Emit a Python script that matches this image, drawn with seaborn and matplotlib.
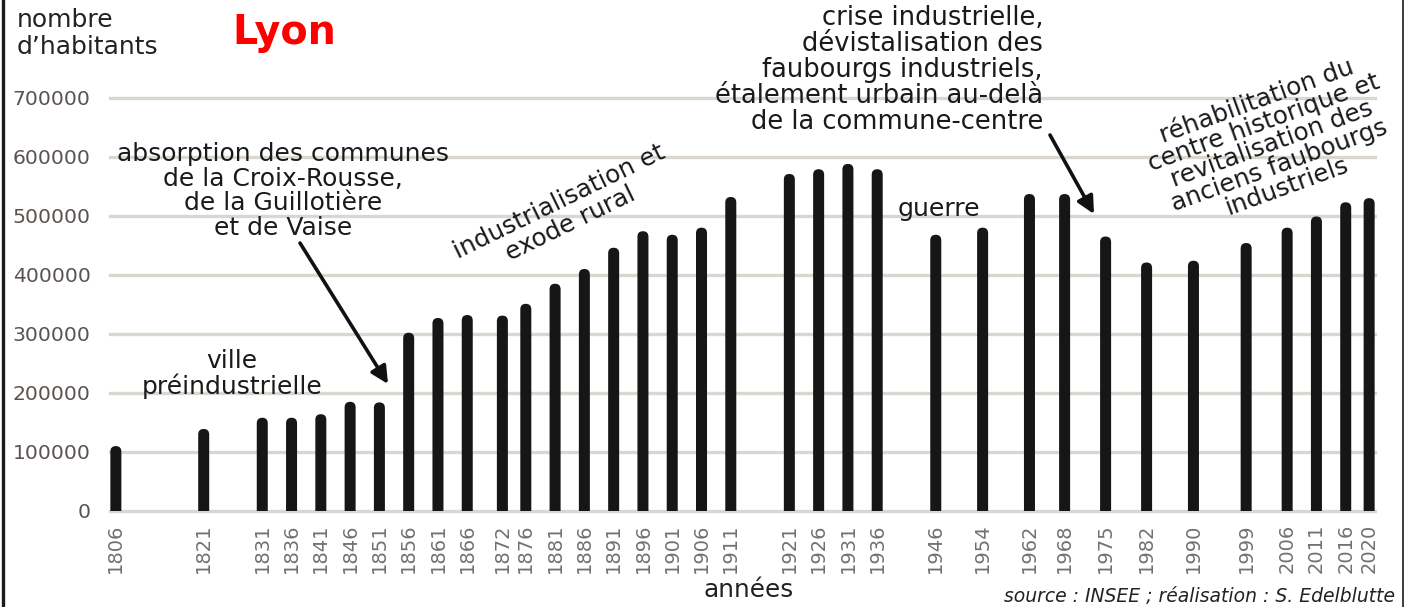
import matplotlib
matplotlib.use("Agg")
import matplotlib.pyplot as plt
from matplotlib.patches import FancyBboxPatch, FancyArrowPatch
from matplotlib.lines import Line2D
import seaborn as sns
import pandas as pd

# ---- data ----
years = [1806, 1821, 1831, 1836, 1841, 1846, 1851, 1856, 1861, 1866, 1872, 1876,
         1881, 1886, 1891, 1896, 1901, 1906, 1911, 1921, 1926, 1931, 1936, 1946,
         1954, 1962, 1968, 1975, 1982, 1990, 1999, 2006, 2011, 2016, 2020]
population = [110000, 139000, 158000, 158000, 164000, 185000, 184000, 302000,
              327000, 332000, 331000, 351000, 385000, 410000, 446000, 474000,
              468000, 480000, 532000, 571000, 579000, 588000, 579000, 468000,
              480000, 537000, 537000, 465000, 421000, 424000, 454000, 480000,
              499000, 523000, 530000]
y_ticks = [0, 100000, 200000, 300000, 400000, 500000, 600000, 700000]

df = pd.DataFrame({"annee": years, "habitants": population})

W, H = 1408, 607
fig = plt.figure(figsize=(W / 100, H / 100), dpi=100)
fig.patch.set_facecolor("white")

def fx(px):
    return px / W

def fy(py):
    return 1 - py / H

FONT = "DejaVu Sans"
plt.rcParams["font.family"] = [FONT]

ax_left, ax_right = 110, 1375
ax_bottom, ax_top = 511, 86
ax = fig.add_axes([fx(ax_left), fy(ax_bottom), (ax_right - ax_left) / W, (ax_bottom - ax_top) / H])
ax.set_facecolor("white")

sns.barplot(data=df, x="annee", y="habitants", native_scale=True, color="#161616",
            width=0.47, ax=ax, zorder=3, saturation=1)

ax.set_xlim(1805, 2021)
ax.set_ylim(0, 720000)

# round the top of each bar
xpp = (2021 - 1805) / (ax_right - ax_left)
ypp = 720000 / (ax_bottom - ax_top)
aspect = ypp / xpp
bars = list(ax.patches)
for p in bars:
    x0, w, h = p.get_x(), p.get_width(), p.get_height()
    r = w / 2
    ry = r * aspect
    fb = FancyBboxPatch((x0, -ry), w, h + ry, boxstyle=f"round,pad=0,rounding_size={r}",
                        mutation_aspect=aspect, facecolor="#161616", edgecolor="none",
                        zorder=3, clip_on=True)
    ax.add_patch(fb)
    p.remove()

# grid
for v in y_ticks:
    ax.axhline(v, color="#dcd6d0", lw=2.4, zorder=1, clip_on=False)

for s in ax.spines.values():
    s.set_visible(False)

ax.set_yticks(y_ticks)
ax.set_yticklabels([str(v) for v in y_ticks], fontsize=14.7, color="#5a5350")
ax.tick_params(axis="y", length=0, pad=14)
ax.set_xticks(years)
ax.set_xticklabels([str(y) for y in years], rotation=90, fontsize=14, color="#737070")
ax.tick_params(axis="x", length=0, pad=9)
ax.set_xlabel("")
ax.set_ylabel("")

# titles / labels
fig.text(fx(17), fy(8), "nombre\nd’habitants", fontsize=18, color="#222222",
         ha="left", va="top", linespacing=1.15)
fig.text(fx(232), fy(33), "Lyon", fontsize=28.5, color="#ff0000", fontweight="bold",
         ha="left", va="center")
fig.text(fx(749), fy(590), "années", fontsize=17.8, color="#222222", ha="center", va="center")
fig.text(fx(1395), fy(596), "source : INSEE ; réalisation : S. Edelblutte", fontsize=13.5,
         color="#222222", ha="right", va="center", style="italic")

ann_kw = dict(color="#1a1a1a")
fig.text(fx(283), fy(191), "absorption des communes\nde la Croix-Rousse,\nde la Guillotière\net de Vaise",
         ha="center", va="center", multialignment="center", fontsize=18, linespacing=1.03, **ann_kw)
fig.text(fx(232), fy(374), "ville\npréindustrielle", ha="center", va="center",
         multialignment="center", fontsize=18, linespacing=1.05, **ann_kw)
fig.text(fx(565), fy(213), "industrialisation et\nexode rural", ha="center", va="center",
         multialignment="center", rotation=26, rotation_mode="anchor", fontsize=17.8,
         linespacing=1.0, **ann_kw)
fig.text(fx(1043), fy(70), "crise industrielle,\ndévistalisation des\nfaubourgs industriels,\nétalement urbain au-delà\nde la commune-centre",
         ha="right", va="center", multialignment="right", fontsize=18.5, linespacing=0.99, **ann_kw)
fig.text(fx(939), fy(209), "guerre", ha="center", va="center", fontsize=18.2, **ann_kw)
fig.text(fx(1272), fy(144), "réhabilitation du\ncentre historique et\nrevitalisation des\nanciens faubourgs\nindustriels",
         ha="center", va="center", multialignment="center", rotation=20, rotation_mode="anchor",
         fontsize=17.8, linespacing=0.93, **ann_kw)

# arrows
arrow_kw = dict(arrowstyle="-|>", lw=2.6, color="#111111", mutation_scale=26, shrinkA=0, shrinkB=0)
fig.add_artist(FancyArrowPatch((fx(300), fy(243)), (fx(388), fy(384)),
                               transform=fig.transFigure, **arrow_kw))
fig.add_artist(FancyArrowPatch((fx(1050), fy(135)), (fx(1094), fy(214)),
                               transform=fig.transFigure, **arrow_kw))

# side borders
fig.add_artist(Line2D([fx(3), fx(3)], [0, 1], color="#1a1a1a", lw=2.4, transform=fig.transFigure))
fig.add_artist(Line2D([fx(1403), fx(1403)], [0, 1], color="#1a1a1a", lw=1.2, transform=fig.transFigure))

fig.savefig("out.png", dpi=100)
